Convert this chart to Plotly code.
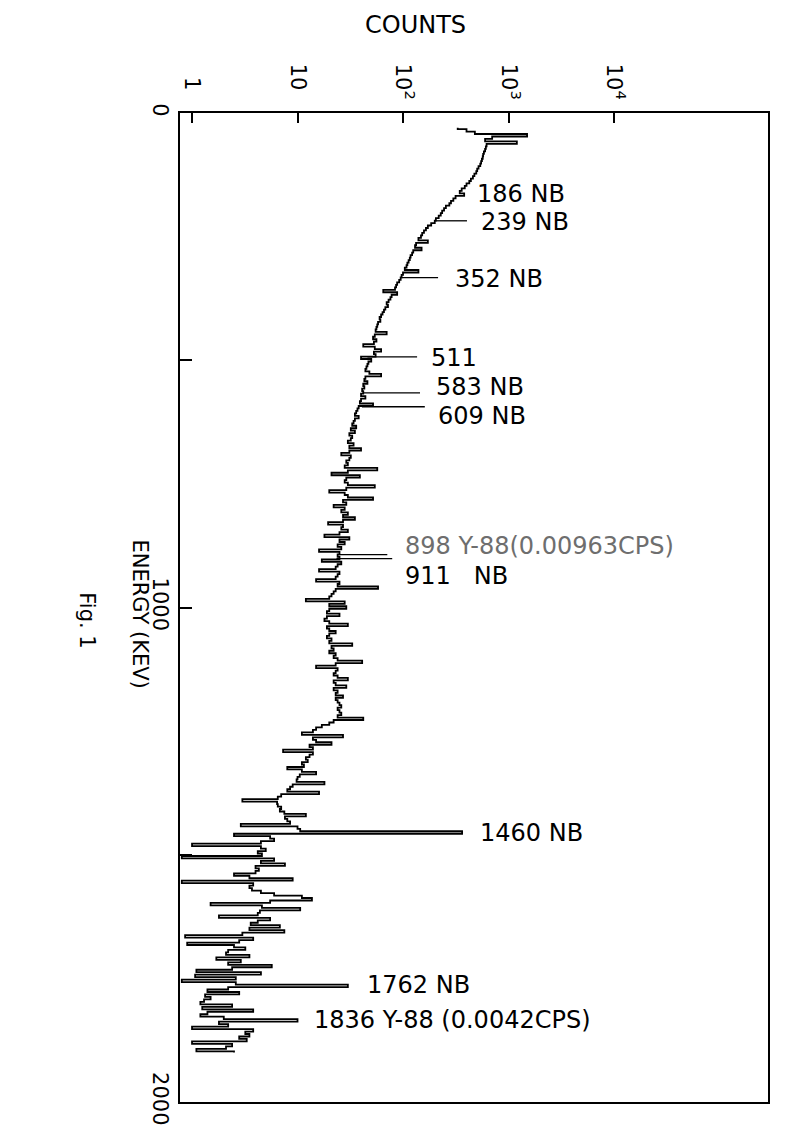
import numpy as np
import plotly.graph_objects as go

# ---------------- data ----------------
channel_start_kev = 30
channel_width_kev = 5
counts = [
    # 30-95 keV
    330, 400, 480, 1500, 700, 600, 1200, 620, 610, 600, 585, 575, 570, 560,
    # 100-195
    550, 540, 520, 505, 495, 475, 460, 440, 425, 400, 385, 360, 345, 380, 315, 300, 285, 275, 255, 245,
    # 200-295
    235, 228, 218, 205, 200, 185, 172, 165, 158, 152, 148, 140, 172, 133, 130, 150, 125, 122, 118, 116,
    # 300-395
    113, 110, 108, 104, 140, 100, 97, 95, 92, 88, 86, 84, 65, 88, 78, 76, 73, 70, 72, 68,
    # 400-495
    66, 64, 62, 60, 61, 58, 57, 56, 55, 70, 54, 52, 56, 53, 42, 54, 62, 53, 55, 40,
    # 500-595
    50, 47, 46, 45, 44, 48, 62, 44, 43, 46, 42, 43, 41, 42, 40, 44, 40, 39, 52, 38,
    # 600-695
    37, 36, 35, 38, 35, 34, 33, 36, 32, 35, 31, 33, 32, 30, 34, 31, 40, 31, 26, 32,
    # 700-795
    31, 29, 30, 28, 57, 30, 21, 39, 29, 28, 30, 54, 29, 20, 28, 30, 52, 27, 29, 22,
    # 800-895
    28, 26, 30, 27, 35, 27, 19.5, 27, 26, 30, 25, 18, 31, 25, 28, 24, 26, 16, 25, 24,
    # 900-995
    25, 17, 26, 24, 23, 16, 25, 24, 23, 15, 25, 24, 58, 23, 22, 21, 20, 12, 28, 20,
    # 1000-1095
    29, 20, 19, 25, 19, 18, 20, 30, 19, 20, 23, 20, 19, 21, 20, 33, 21, 22, 20, 23,
    # 1100-1195
    22, 24, 41, 23, 15, 24, 23, 22, 24, 30, 22, 23, 29, 22, 24, 23, 27, 23, 24, 25,
    # 1200-1295
    26, 24, 25, 26, 24, 42, 22, 20, 17, 15, 14, 11, 27, 14, 15, 21, 13, 14, 7.3, 14,
    # 1300-1395
    13, 12, 12.5, 11, 11.5, 8, 11, 15, 10.5, 10, 9.8, 18, 9, 8.5, 8, 16, 7, 6.5, 3, 6.4,
    # 1400-1495
    6.5, 7, 6.8, 7.5, 12, 7.6, 8, 8.5, 2.9, 10, 10.6, 363, 2.5, 5.5, 6, 4.5, 1.0, 4.5, 5, 4.2,
    # 1500-1595
    4.6, 0.8, 6, 4.5, 7.6, 4, 4.3, 4, 2.5, 3.5, 9, 0.8, 3.8, 3.5, 3.7, 4.5, 6, 11, 13.7, 5.5,
    # 1600-1695
    1.5, 4.6, 10.6, 4.4, 4.2, 1.8, 5.5, 4.2, 3.6, 6.8, 3.5, 7.5, 3, 0.86, 3.8, 2.8, 0.9, 2.5, 3.2, 2.2,
    # 1700-1795
    2.1, 3.5, 1.7, 2.9, 2.2, 5.7, 2.4, 1.1, 4.5, 1.07, 2.6, 0.8, 2.6, 30, 2.2, 1.4, 2.8, 1.33, 1.5, 1.3,
    # 1800-1895
    1.2, 2.4, 1.25, 3.8, 1.4, 1.2, 2, 10, 1.8, 2.2, 1.0, 3.8, 3.2, 3.5, 2.8, 3.3, 1.0, 2.4, 2.1, 1.1,
    # 1900
    2.5,
]

energy_ticks = [0, 1000, 2000]
energy_tick_text = ["0", "1000", "2000"]
energy_minor_ticks = [500, 1500]
count_ticks = [1, 10, 100, 1000, 10000]
count_tick_base = ["1", "10", "10", "10", "10"]
count_tick_exp = ["", "", "2", "3", "4"]

# leader lines drawn from the spectrum out to the labels
leader_kev = [218, 333, 493, 566, 594, 893, 901]
leader_end_counts = [404, 215, 136, 145, 161, 71, 79]

# peak labels
label_text = ["186 NB", "239 NB", "352 NB", "511", "583 NB", "609 NB",
              "898 Y-88(0.00963CPS)", "911\u00a0\u00a0\u00a0NB", "1460 NB", "1762 NB",
              "1836 Y-88 (0.0042CPS)"]
label_kev = [164, 221, 336, 495, 555, 612, 875, 937, 1455, 1764, 1834]
label_counts = [481, 525, 298, 176, 197, 205, 100, 100, 514, 43.6, 13.7]
label_colors = ["black"] * 6 + ["#6e6e6e"] + ["black"] * 4

# ---------------- figure ----------------
energies = channel_start_kev + channel_width_kev * np.arange(len(counts))
counts_arr = np.array(counts, dtype=float)

FONT = "DejaVu Sans"

# tick labels: exponent as superscript; a transparent "2" keeps plain labels aligned
count_tick_text = []
for b, e in zip(count_tick_base, count_tick_exp):
    if e:
        count_tick_text.append(f"{b}<sup>{e}</sup>")
    else:
        count_tick_text.append(f"{b}<span style='color:rgba(0,0,0,0)'><sup>2</sup></span>")

fig = go.Figure()
fig.add_trace(go.Scatter(
    x=counts_arr, y=energies, mode="lines",
    line=dict(color="black", width=1.8, shape="vhv"),
    showlegend=False, hoverinfo="skip"))

lx, ly = [], []
for e, end in zip(leader_kev, leader_end_counts):
    start = float(np.interp(e, energies, counts_arr))
    lx += [start, end, None]
    ly += [e, e, None]
fig.add_trace(go.Scatter(x=lx, y=ly, mode="lines",
                         line=dict(color="black", width=1.3),
                         showlegend=False, hoverinfo="skip"))

annotations = []
for t, e, c, col in zip(label_text, label_kev, label_counts, label_colors):
    annotations.append(dict(
        x=np.log10(c), y=e, xref="x", yref="y", text=t, showarrow=False,
        xanchor="left", yanchor="middle",
        font=dict(family=FONT, size=24, color=col)))

annotations += [
    dict(x=0.40, y=1.089, xref="paper", yref="paper", text="COUNTS",
         showarrow=False, xanchor="center", yanchor="middle",
         font=dict(family=FONT, size=24, color="black")),
    dict(x=-0.068, y=0.494, xref="paper", yref="paper", text="ENERGY (KEV)",
         showarrow=False, textangle=90, xanchor="center", yanchor="middle",
         font=dict(family=FONT, size=21, color="black")),
    dict(x=-0.158, y=0.487, xref="paper", yref="paper", text="Fig. 1",
         showarrow=False, textangle=90, xanchor="center", yanchor="middle",
         font=dict(family=FONT, size=21, color="black")),
]

fig.update_layout(
    width=779, height=1134,
    margin=dict(l=172, r=19, t=105, b=40),
    paper_bgcolor="white", plot_bgcolor="white",
    annotations=annotations,
    xaxis=dict(
        type="log", side="top", range=[-0.114, 5.46],
        tickvals=count_ticks, ticktext=count_tick_text,
        ticks="inside", ticklen=10, tickwidth=1.5, tickcolor="black",
        tickangle=90, ticklabelstandoff=4,
        tickfont=dict(family=FONT, size=21, color="black"),
        showline=True, linecolor="black", linewidth=1.8, mirror=True,
        showgrid=False, zeroline=False),
    yaxis=dict(
        range=[2000, 0],
        tickvals=energy_ticks, ticktext=energy_tick_text,
        ticks="inside", ticklen=12, tickwidth=1.5, tickcolor="black",
        minor=dict(tickvals=energy_minor_ticks, ticks="inside", ticklen=12,
                   tickwidth=1.5, tickcolor="black"),
        tickangle=90, tickfont=dict(family=FONT, size=21, color="black"),
        showline=True, linecolor="black", linewidth=1.8, mirror=True,
        showgrid=False, zeroline=False),
)

fig.write_html("out.html")
